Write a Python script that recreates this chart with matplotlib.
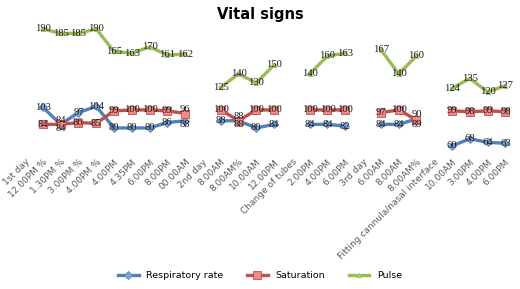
import numpy as np
import matplotlib.pyplot as plt

nan = np.nan

categories = ["1st day", "12.00PM %", "1.30PM %", "3.00PM %", "4.00PM %", "4.00PM",
              "4.35PM", "6.00PM", "8.00PM", "00.00AM", "2nd day", "8.00AM", "8.00AM%",
              "10.00AM", "12.00PM", "Change of tubes", "2.00PM", "4.00PM", "6.00PM",
              "3rd day", "6.00AM", "8.00AM", "8.00AM%", "Fitting cannula/nasal interface",
              "10.00AM", "3.00PM", "4.00PM", "6.00PM"]

resp = [nan, 103, 84, 97, 104, 80, 80, 80, 86, 88,
        nan, 88, 88, 80, 84,
        nan, 84, 84, 82,
        nan, 84, 84, 90,
        nan, 60, 68, 64, 63]
sat = [nan, 84, 84, 86, 85, 99, 100, 100, 99, 96,
       nan, 100, 88, 100, 100,
       nan, 100, 100, 100,
       nan, 97, 100, 89,
       nan, 99, 98, 99, 98]
pulse = [nan, 190, 185, 185, 190, 165, 163, 170, 161, 162,
         nan, 125, 140, 130, 150,
         nan, 140, 160, 163,
         nan, 167, 140, 160,
         nan, 124, 135, 120, 127]

series = [
    ("Respiratory rate", resp, "#4F81BD", "#7DA7D9", "D", 4.5),
    ("Saturation", sat, "#C0504D", "#EE8A8A", "s", 6),
    ("Pulse", pulse, "#9BBB59", "#B5D07A", "^", 3),
]

fig = plt.figure(figsize=(5.2, 2.89), dpi=100)
ax = fig.add_axes([0.031, 0.47, 0.958, 0.455])
x = np.arange(len(categories))

r = np.array(resp, dtype=float)
s_ = np.array(sat, dtype=float)

for name, vals, col, fcol, mk, ms in series:
    ax.plot(x, vals, color=col, lw=2.4, marker=mk, ms=ms,
            markerfacecolor=fcol, markeredgecolor=col, markeredgewidth=0.6,
            label=name)
    for i, v in enumerate(vals):
        if np.isnan(v):
            continue
        dy = 0
        # nudge the two close lower series apart where they nearly meet
        if name != "Pulse" and abs(r[i] - s_[i]) < 10:
            other = s_[i] if name == "Respiratory rate" else r[i]
            up = v > other or (v == other and name == "Saturation")
            dy = 3 if up else -3
        ax.annotate(f"{int(v)}", (i, v), xytext=(0, dy), textcoords="offset points",
                    ha="center", va="center", fontsize=7.6,
                    family="Liberation Serif", color="#1a1a1a")

ax.set_xlim(-0.5, len(categories) - 0.5)
ax.set_ylim(52, 198)
ax.set_yticks([])
ax.set_xticks(x)
ax.set_xticklabels(categories, rotation=45, ha="right", rotation_mode="anchor",
                   fontsize=6.5, color="#595959")
ax.tick_params(axis="x", length=0, pad=3)
for sp in ax.spines.values():
    sp.set_visible(False)

fig.suptitle("Vital signs", fontsize=10.5, fontweight="bold", y=0.975)
fig.legend(loc="lower center", bbox_to_anchor=(0.5, 0.0), ncol=3, frameon=False,
           fontsize=6.8, handlelength=2.2, columnspacing=2.5)

fig.savefig("out.png", dpi=100)
